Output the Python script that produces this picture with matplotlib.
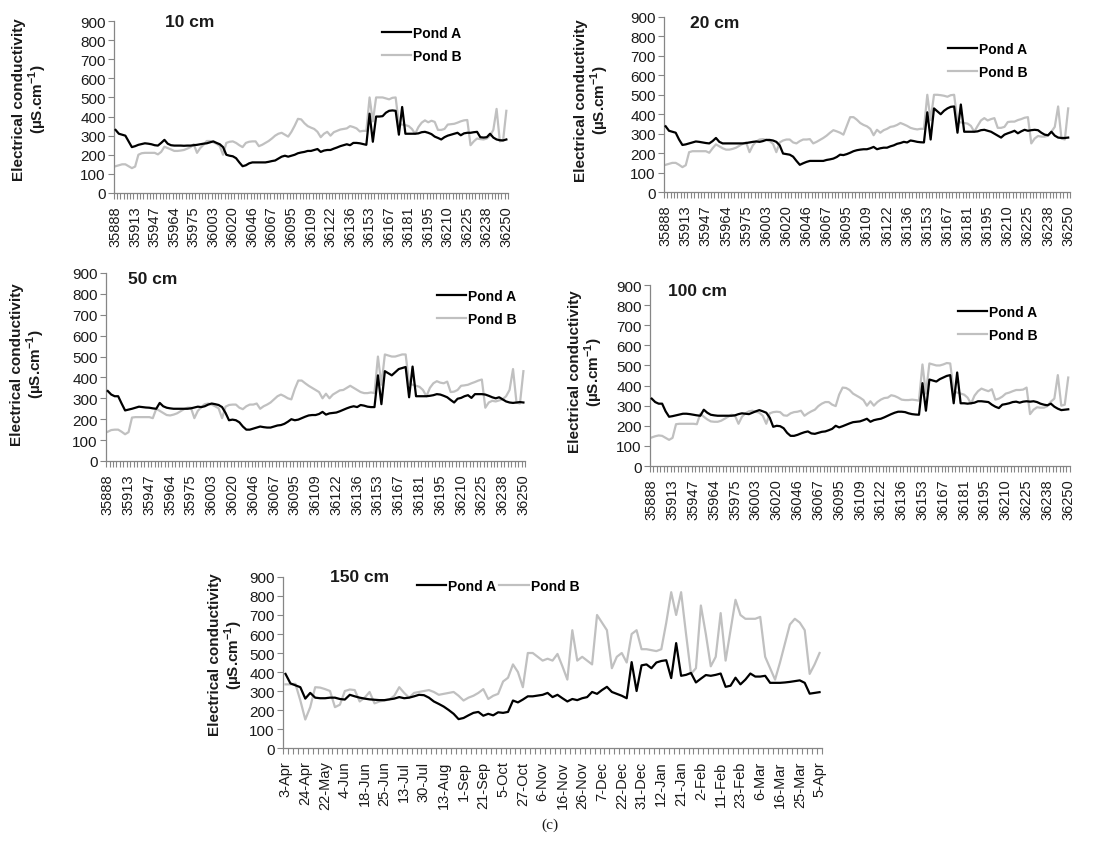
import matplotlib
matplotlib.use('Agg')
import matplotlib.pyplot as plt

plt.rcParams['font.family'] = ['Liberation Sans', 'DejaVu Sans']
plt.rcParams['mathtext.fontset'] = 'custom'
plt.rcParams['mathtext.rm'] = 'Liberation Sans'
plt.rcParams['mathtext.bf'] = 'Liberation Sans:bold'

# category labels (Excel date serials for the four top panels, dates for 150 cm)
serial_labels = ['35888', '35913', '35947', '35964', '35975', '36003', '36020',
                 '36046', '36067', '36095', '36109', '36122', '36136', '36153',
                 '36167', '36181', '36195', '36210', '36225', '36238', '36250']
date_labels = ['3-Apr', '24-Apr', '22-May', '4-Jun', '18-Jun', '25-Jun', '13-Jul',
               '30-Jul', '13-Aug', '1-Sep', '21-Sep', '5-Oct', '27-Oct', '6-Nov',
               '16-Nov', '26-Nov', '7-Dec', '22-Dec', '31-Dec', '12-Jan', '21-Jan',
               '2-Feb', '11-Feb', '23-Feb', '6-Mar', '16-Mar', '25-Mar', '5-Apr']

# electrical conductivity, uS/cm
pond_a_10 = [330, 310, 305, 300, 270, 240, 245, 252, 256, 260,
             258, 255, 250, 248, 262, 278, 258, 250, 248, 248,
             248, 247, 248, 248, 250, 252, 255, 258, 260, 265,
             270, 262, 255, 240, 200, 195, 192, 182, 160, 140,
             145, 155, 160, 160, 160, 160, 160, 163, 167, 170,
             180, 190, 195, 190, 195, 200, 208, 212, 215, 220,
             220, 225, 230, 215, 222, 225, 225, 232, 238, 245,
             250, 255, 250, 262, 262, 260, 256, 252, 415, 268,
             400, 400, 402, 420, 430, 432, 430, 305, 450, 310,
             310, 310, 310, 312, 318, 320, 315, 308, 295, 288,
             280, 292, 300, 305, 310, 315, 302, 312, 315, 315,
             318, 320, 292, 290, 292, 310, 290, 280, 276, 275,
             280]
pond_b_10 = [140, 145, 150, 150, 140, 130, 138, 200, 208, 210,
             210, 210, 210, 202, 215, 242, 235, 228, 220, 220,
             222, 225, 232, 240, 255, 210, 235, 252, 272, 272,
             265, 258, 245, 200, 262, 268, 270, 262, 250, 240,
             262, 268, 270, 270, 245, 252, 262, 272, 285, 300,
             310, 315, 305, 295, 320, 352, 388, 385, 365, 350,
             342, 335, 320, 292, 310, 320, 300, 318, 325, 332,
             335, 338, 350, 345, 338, 322, 325, 325, 500, 375,
             500, 500, 500, 495, 490, 498, 500, 360, 358, 355,
             350, 335, 310, 345, 368, 380, 370, 378, 372, 330,
             330, 335, 358, 360, 362, 368, 375, 380, 382, 250,
             270, 285, 282, 280, 285, 300, 330, 440, 270, 275,
             430]

pond_a_20 = [338, 315, 310, 305, 270, 242, 245, 250, 255, 260,
             258, 255, 252, 250, 262, 278, 258, 250, 250, 250,
             250, 250, 250, 250, 252, 255, 258, 260, 258, 262,
             268, 268, 265, 258, 240, 198, 195, 192, 182, 160,
             140, 148, 155, 160, 160, 160, 160, 160, 165, 168,
             172, 180, 192, 190, 195, 202, 210, 215, 218, 220,
             220, 225, 232, 220, 225, 228, 228, 235, 240, 248,
             252, 258, 255, 265, 262, 258, 256, 255, 410, 270,
             430, 415, 400, 418, 430, 438, 440, 305, 450, 310,
             310, 310, 310, 312, 318, 320, 315, 310, 300, 290,
             280, 295, 302, 308, 315, 302, 312, 320, 315, 318,
             320, 318, 305, 295, 292, 310, 290, 280, 278, 278,
             280]
pond_b_20 = [140, 145, 150, 150, 140, 128, 138, 205, 210, 210,
             210, 210, 210, 202, 225, 245, 235, 225, 218, 218,
             222, 228, 238, 248, 255, 205, 240, 260, 270, 272,
             268, 262, 248, 205, 255, 265, 270, 270, 255, 250,
             262, 270, 270, 272, 250, 258, 268, 278, 290, 305,
             318, 312, 305, 295, 340, 385, 385, 372, 355, 345,
             338, 325, 292, 320, 305, 318, 325, 335, 338, 345,
             355, 348, 340, 330, 325, 322, 325, 325, 500, 370,
             500, 500, 498, 495, 490, 498, 500, 362, 358, 355,
             352, 340, 310, 340, 368, 380, 368, 375, 380, 330,
             330, 335, 360, 362, 362, 370, 375, 382, 385, 250,
             275, 288, 285, 285, 290, 310, 335, 440, 275, 270,
             430]

pond_a_50 = [335, 318, 310, 310, 275, 242, 246, 250, 255, 260,
             258, 256, 255, 252, 250, 278, 262, 255, 252, 250,
             250, 250, 250, 250, 252, 256, 260, 258, 262, 270,
             275, 272, 268, 258, 230, 195, 198, 195, 185, 165,
             150, 150, 155, 160, 165, 162, 160, 160, 165, 170,
             172, 178, 188, 200, 195, 198, 205, 212, 218, 220,
             220, 225, 235, 222, 228, 230, 232, 238, 245, 252,
             258, 262, 258, 268, 265, 260, 258, 258, 410, 272,
             430, 420, 410, 425, 440, 445, 450, 305, 452, 310,
             310, 310, 310, 312, 315, 320, 318, 312, 305, 292,
             280, 298, 302, 310, 315, 302, 320, 320, 320, 318,
             312, 305, 300, 305, 295, 285, 280, 278, 280, 282,
             280]
pond_b_50 = [140, 148, 150, 150, 140, 128, 138, 208, 210, 210,
             210, 210, 210, 205, 250, 240, 230, 220, 218, 222,
             228, 238, 248, 255, 255, 205, 240, 258, 272, 275,
             270, 262, 252, 205, 260, 268, 270, 270, 255, 248,
             262, 270, 270, 275, 250, 262, 270, 280, 295, 310,
             318, 310, 300, 295, 345, 385, 385, 372, 360, 350,
             340, 330, 300, 322, 300, 318, 328, 338, 340, 350,
             360, 350, 340, 330, 325, 325, 328, 325, 500, 365,
             510, 505, 500, 500, 505, 510, 510, 370, 365, 360,
             355, 340, 310, 350, 372, 382, 375, 372, 380, 330,
             332, 340, 360, 362, 365, 372, 378, 385, 390, 255,
             280, 288, 285, 290, 295, 310, 340, 440, 280, 275,
             430]

pond_a_100 = [335, 318, 310, 310, 272, 245, 248, 252, 256, 260,
              260, 258, 255, 252, 250, 280, 265, 255, 252, 250,
              250, 250, 250, 250, 252, 258, 262, 260, 258, 265,
              272, 278, 272, 265, 240, 195, 200, 198, 188, 165,
              150, 150, 155, 162, 168, 172, 162, 160, 165, 170,
              172, 178, 185, 200, 192, 198, 205, 212, 218, 220,
              222, 228, 235, 220, 228, 232, 235, 242, 250, 258,
              265, 270, 270, 268, 262, 258, 256, 255, 412, 275,
              430, 425, 420, 432, 440, 448, 452, 312, 465, 312,
              312, 310, 312, 315, 322, 322, 320, 318, 305, 295,
              288, 305, 308, 312, 318, 320, 315, 320, 322, 320,
              322, 318, 310, 305, 302, 310, 295, 285, 278, 280,
              282]
pond_b_100 = [142, 148, 152, 150, 140, 130, 140, 208, 210, 210,
              210, 210, 210, 208, 260, 245, 232, 222, 220, 220,
              225, 235, 245, 255, 250, 210, 245, 262, 272, 275,
              270, 265, 250, 210, 262, 268, 270, 268, 252, 250,
              262, 268, 270, 275, 250, 262, 272, 280, 298, 310,
              318, 318, 305, 298, 355, 390, 388, 378, 360, 350,
              340, 328, 300, 322, 300, 318, 330, 338, 340, 352,
              348, 340, 330, 328, 328, 330, 328, 325, 505, 360,
              510, 505, 500, 500, 505, 512, 510, 372, 365, 360,
              355, 340, 310, 350, 372, 385, 378, 372, 382, 330,
              335, 345, 360, 365, 372, 378, 378, 380, 390, 258,
              280, 292, 290, 290, 298, 320, 335, 452, 300, 305,
              440]

pond_a_150 = [390, 340, 330, 320, 260, 290, 265, 262, 262, 265,
              265, 258, 255, 280, 272, 265, 260, 256, 254, 252,
              252, 256, 260, 268, 262, 265, 272, 280, 278, 265,
              245, 232, 218, 200, 180, 152, 158, 172, 185, 190,
              170, 180, 172, 188, 185, 190, 250, 240, 255, 272,
              272, 276, 280, 290, 268, 280, 262, 245, 258, 252,
              262, 268, 295, 285, 305, 322, 295, 285, 275, 262,
              452, 300, 435, 440, 420, 450, 458, 462, 368, 552,
              380, 385, 395, 345, 365, 384, 380, 385, 392, 322,
              328, 370, 335, 360, 392, 376, 376, 380, 343, 343,
              343, 345, 348, 352, 356, 343, 286, 290, 294]
pond_b_150 = [335, 335, 338, 250, 150, 215, 320, 318, 310, 300,
              215, 228, 300, 308, 305, 245, 265, 295, 235, 245,
              250, 255, 275, 320, 290, 265, 290, 295, 300, 305,
              295, 280, 285, 290, 295, 275, 250, 265, 275, 290,
              310, 258, 275, 285, 350, 370, 440, 400, 320, 500,
              500, 480, 460, 470, 460, 495, 430, 360, 620, 460,
              480, 460, 440, 700, 660, 620, 420, 480, 500, 450,
              600, 620, 520, 520, 515, 510, 520, 660, 820, 700,
              820, 600, 390, 420, 750, 600, 430, 480, 710, 460,
              620, 780, 700, 680, 680, 680, 690, 480, 420, 360,
              450, 550, 650, 680, 660, 620, 390, 440, 500]

AXIS_GREY = '#868686'
TEXT = '#1a1a1a'
YLABEL = 'Electrical conductivity\n(µS.cm$^{\\mathbf{-1}}$)'

fig = plt.figure(figsize=(11, 8.53), dpi=100)


def panel(rect, a, b, labels, step, title, title_xy, leg_xy, ylab_xy, ncol=1):
    ax = fig.add_axes(rect)
    n = len(a)
    x = list(range(n))
    ax.plot(x, a, color='black', lw=1.6, label='Pond A', zorder=3)
    ax.plot(x, b, color='#c0c0c0', lw=1.6, label='Pond B', zorder=2)

    ax.set_xlim(-0.5, n - 0.5)
    ax.set_ylim(0, 900)
    ax.set_yticks(range(0, 901, 100))
    ax.set_xticks([i * step for i in range(len(labels))])
    ax.set_xticklabels(labels, rotation=90)
    ax.set_xticks([i - 0.5 for i in range(n + 1)], minor=True)
    ax.tick_params(axis='x', which='major', length=0, pad=9, labelsize=10.5,
                   labelcolor=TEXT)
    ax.tick_params(axis='x', which='minor', length=4, width=0.8,
                   color=AXIS_GREY, direction='out')
    ax.tick_params(axis='y', length=4, width=0.8, color=AXIS_GREY,
                   labelsize=11, labelcolor=TEXT, pad=2)
    for s in ['top', 'right']:
        ax.spines[s].set_visible(False)
    for s in ['left', 'bottom']:
        ax.spines[s].set_color(AXIS_GREY)
        ax.spines[s].set_linewidth(0.9)

    ax.set_ylabel(YLABEL, fontsize=11, fontweight='bold', color=TEXT,
                  multialignment='center', linespacing=1.05)
    ax.yaxis.set_label_coords(*ylab_xy)

    ax.text(title_xy[0], title_xy[1], title, transform=ax.transAxes,
            fontsize=12.5, fontweight='bold', color=TEXT, ha='left', va='center')

    ax.legend(loc='upper left', bbox_to_anchor=leg_xy, frameon=False, ncol=ncol,
              prop={'weight': 'bold', 'size': 10}, handlelength=2.1,
              handletextpad=0.15, labelspacing=0.65, borderaxespad=0,
              borderpad=0, columnspacing=0.2)
    return ax


panel([0.1036, 0.7726, 0.3582, 0.2016], pond_a_10, pond_b_10, serial_labels, 6,
      '10 cm', (0.13, 1.0), (0.68, 0.97), (-0.165, 0.55))
panel([0.6036, 0.7737, 0.369, 0.2052], pond_a_20, pond_b_20, serial_labels, 6,
      '20 cm', (0.064, 0.966), (0.70, 0.857), (-0.13, 0.53))
panel([0.0964, 0.4584, 0.381, 0.2204], pond_a_50, pond_b_50, serial_labels, 6,
      '50 cm', (0.053, 0.973), (0.79, 0.915), (-0.14, 0.52))
panel([0.5909, 0.4525, 0.3818, 0.2122], pond_a_100, pond_b_100, serial_labels, 6,
      '100 cm', (0.043, 0.967), (0.733, 0.89), (-0.108, 0.525))
panel([0.2573, 0.1219, 0.49, 0.2005], pond_a_150, pond_b_150, date_labels, 4,
      '150 cm', (0.087, 1.0), (0.249, 0.99), (-0.07, 0.55), ncol=2)

fig.text(0.5, 1 - 825 / 853, '(c)', family=['Liberation Serif', 'DejaVu Serif'],
         fontsize=11, ha='center', va='center', color=TEXT)

fig.savefig('out.png', dpi=100)
